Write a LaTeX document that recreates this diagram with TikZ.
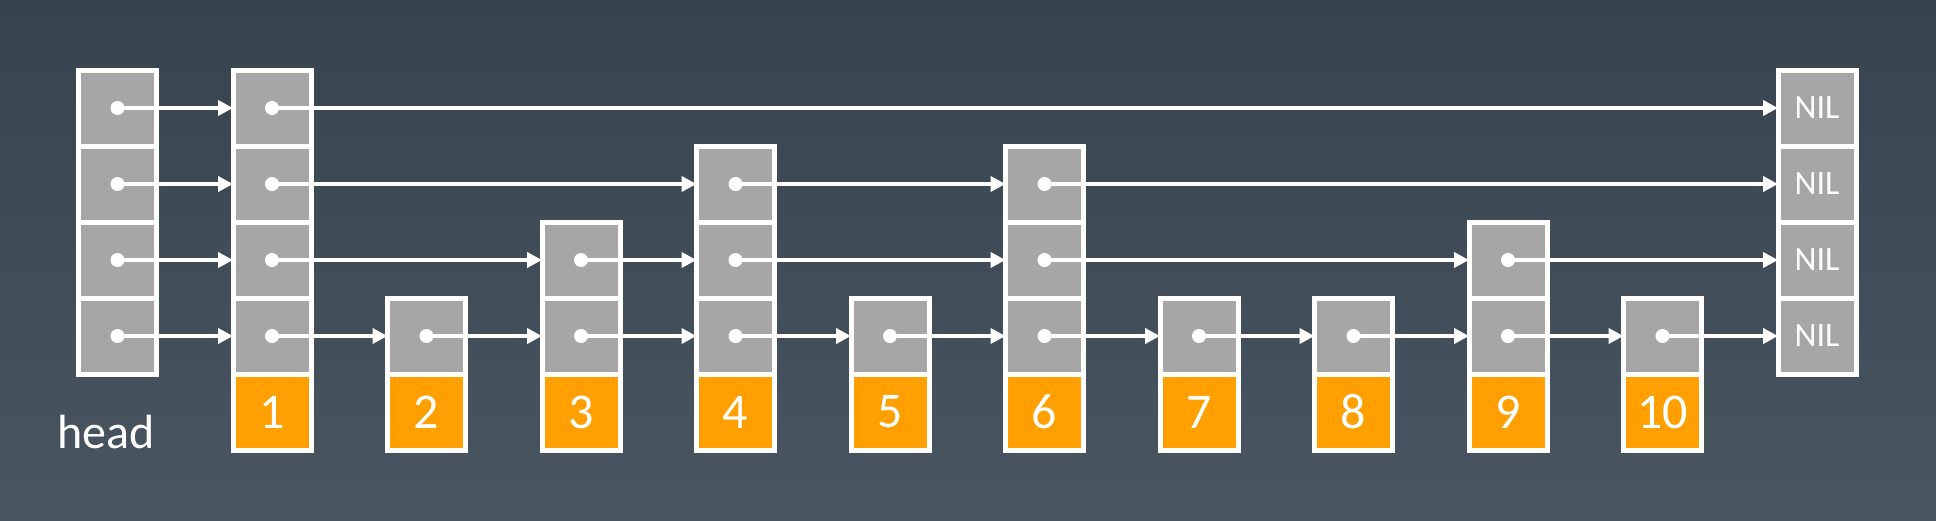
\documentclass[tikz,border=0pt]{standalone}
\usepackage{fontspec}
\setmainfont{Carlito}
\usepackage{tikz}
\usetikzlibrary{positioning,arrows.meta}

\definecolor{slatetop}{HTML}{384350}
\definecolor{slatebot}{HTML}{4A5562}
\definecolor{cellgray}{HTML}{A6A6A6}
\definecolor{keyorange}{HTML}{FFA000}

\begin{document}
\begin{tikzpicture}[x=0.5pt, y=-0.5pt, node distance=38.25pt,
    >={Triangle[length=7.5pt,width=7.5pt]},
    every node/.style={inner sep=0pt, outer sep=0pt, text=white},
    cell/.style={draw=white, line width=2.5pt, fill=cellgray, minimum width=39pt, minimum height=38pt},
    ptr/.style={cell, path picture={\fill[white] (path picture bounding box.center) circle (3.5pt);}},
    key/.style={cell, fill=keyorange, font=\fontsize{25}{30}\selectfont},
    nil/.style={cell, font=\fontsize{17}{20}\selectfont},
    link/.style={->, white, line width=2.3pt}]
    \shade[top color=slatetop, bottom color=slatebot] (0,0) rectangle (1936,520);

    % head
    \node[ptr] (h-1) at (117.5,336) {};
    \node[ptr, above=0pt of h-1] (h-2) {};
    \node[ptr, above=0pt of h-2] (h-3) {};
    \node[ptr, above=0pt of h-3] (h-4) {};
    \node[font=\fontsize{24}{28}\selectfont] (headlbl) at (106,432) {head};

    % 1
    \node[ptr, right=of h-1] (n1-1) {};
    \node[ptr, above=0pt of n1-1] (n1-2) {};
    \node[ptr, above=0pt of n1-2] (n1-3) {};
    \node[ptr, above=0pt of n1-3] (n1-4) {};
    \node[key, below=0pt of n1-1] (k1) {1};
    % 2
    \node[ptr, right=of n1-1] (n2-1) {};
    \node[key, below=0pt of n2-1] (k2) {2};
    % 3
    \node[ptr, right=of n2-1] (n3-1) {};
    \node[ptr, above=0pt of n3-1] (n3-2) {};
    \node[key, below=0pt of n3-1] (k3) {3};
    % 4
    \node[ptr, right=of n3-1] (n4-1) {};
    \node[ptr, above=0pt of n4-1] (n4-2) {};
    \node[ptr, above=0pt of n4-2] (n4-3) {};
    \node[key, below=0pt of n4-1] (k4) {4};
    % 5
    \node[ptr, right=of n4-1] (n5-1) {};
    \node[key, below=0pt of n5-1] (k5) {5};
    % 6
    \node[ptr, right=of n5-1] (n6-1) {};
    \node[ptr, above=0pt of n6-1] (n6-2) {};
    \node[ptr, above=0pt of n6-2] (n6-3) {};
    \node[key, below=0pt of n6-1] (k6) {6};
    % 7
    \node[ptr, right=of n6-1] (n7-1) {};
    \node[key, below=0pt of n7-1] (k7) {7};
    % 8
    \node[ptr, right=of n7-1] (n8-1) {};
    \node[key, below=0pt of n8-1] (k8) {8};
    % 9
    \node[ptr, right=of n8-1] (n9-1) {};
    \node[ptr, above=0pt of n9-1] (n9-2) {};
    \node[key, below=0pt of n9-1] (k9) {9};
    % 10
    \node[ptr, right=of n9-1] (n10-1) {};
    \node[key, below=0pt of n10-1] (k10) {10};

    % NIL
    \node[nil, right=of n10-1] (nil-1) {NIL};
    \node[nil, above=0pt of nil-1] (nil-2) {NIL};
    \node[nil, above=0pt of nil-2] (nil-3) {NIL};
    \node[nil, above=0pt of nil-3] (nil-4) {NIL};

    % level 4
    \draw[link] (h-4.center) -- (n1-4.west);
    \draw[link] (n1-4.center) -- (nil-4.west);
    % level 3
    \draw[link] (h-3.center) -- (n1-3.west);
    \draw[link] (n1-3.center) -- (n4-3.west);
    \draw[link] (n4-3.center) -- (n6-3.west);
    \draw[link] (n6-3.center) -- (nil-3.west);
    % level 2
    \draw[link] (h-2.center) -- (n1-2.west);
    \draw[link] (n1-2.center) -- (n3-2.west);
    \draw[link] (n3-2.center) -- (n4-2.west);
    \draw[link] (n4-2.center) -- (n6-2.west);
    \draw[link] (n6-2.center) -- (n9-2.west);
    \draw[link] (n9-2.center) -- (nil-2.west);
    % level 1
    \draw[link] (h-1.center) -- (n1-1.west);
    \draw[link] (n1-1.center) -- (n2-1.west);
    \draw[link] (n2-1.center) -- (n3-1.west);
    \draw[link] (n3-1.center) -- (n4-1.west);
    \draw[link] (n4-1.center) -- (n5-1.west);
    \draw[link] (n5-1.center) -- (n6-1.west);
    \draw[link] (n6-1.center) -- (n7-1.west);
    \draw[link] (n7-1.center) -- (n8-1.west);
    \draw[link] (n8-1.center) -- (n9-1.west);
    \draw[link] (n9-1.center) -- (n10-1.west);
    \draw[link] (n10-1.center) -- (nil-1.west);
\end{tikzpicture}
\end{document}
